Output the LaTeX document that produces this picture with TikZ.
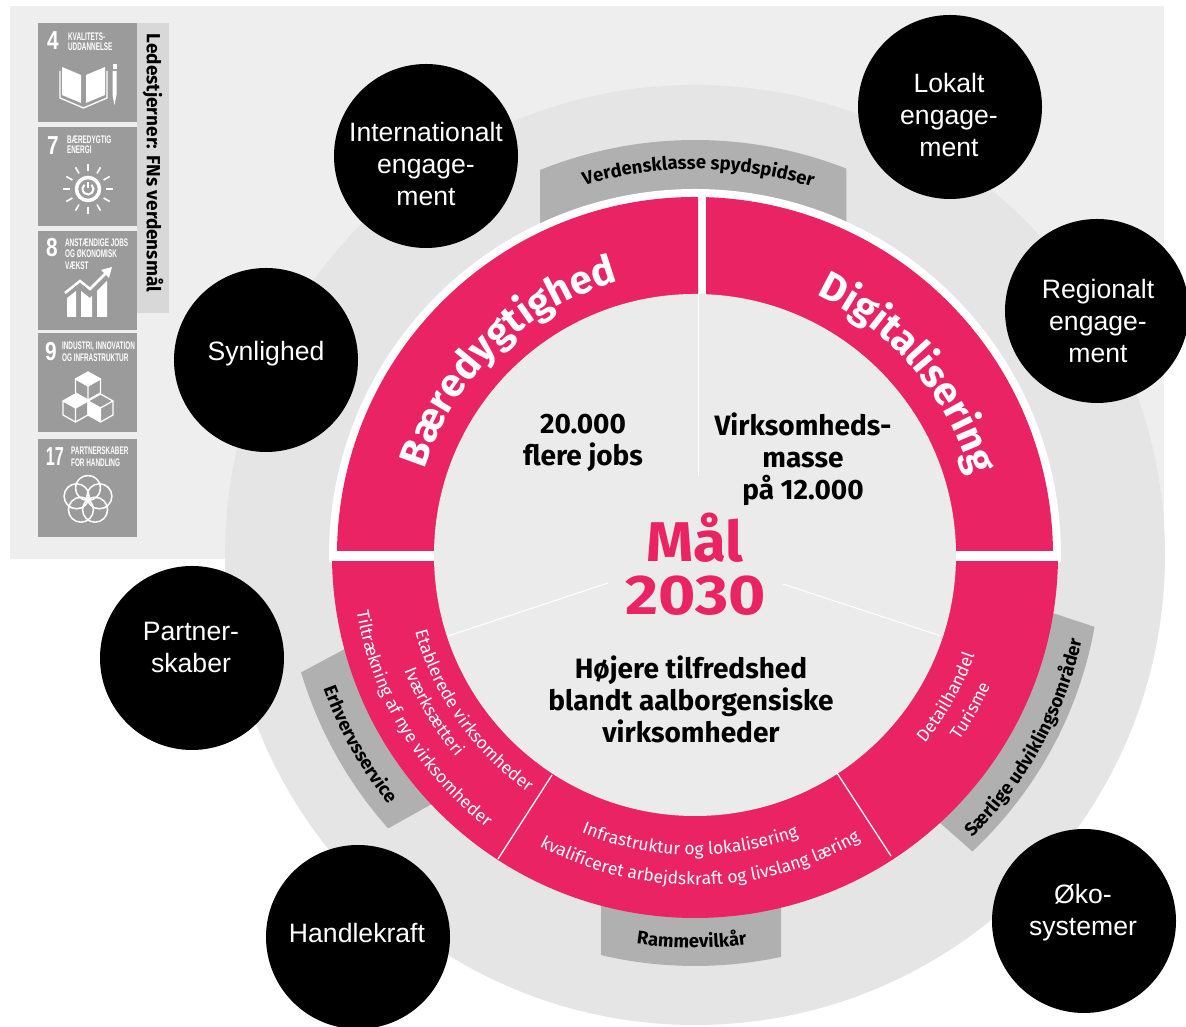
\documentclass[tikz,border=0pt]{standalone}
\usepackage{fontspec}
\setmainfont{Liberation Sans}
\newfontfamily\firafont{Fira Sans}
\usetikzlibrary{decorations.text}

\definecolor{ringpink}{HTML}{E92364}
\definecolor{panelgray}{HTML}{EEEEEE}
\definecolor{discgray}{HTML}{E5E5E5}
\definecolor{innergray}{HTML}{EBEBEB}
\definecolor{tabgray}{HTML}{B0B0B0}
\definecolor{tilegray}{HTML}{9B9B9B}
\definecolor{stripgray}{HTML}{D8D8D8}

\newcommand{\bandfont}{\firafont\fontsize{17.5}{17.5}\selectfont\color{white}}
\newcommand{\tabfont}{\firafont\bfseries\fontsize{18.5}{18.5}\selectfont\color{black}}
\newcommand{\headfont}{\firafont\bfseries\fontsize{40}{40}\selectfont\color{white}}

\tikzset{
	goalcircle/.style={circle,fill=black,minimum size=184pt,inner sep=0pt},
	goallabel/.style={text=white,inner sep=0pt,align=center,font=\fontsize{26.6}{32}\selectfont},
	goaltext/.style={align=center,font=\firafont\bfseries\fontsize{28}{32}\selectfont},
	bigtext/.style={text=ringpink,font=\firafont\bfseries\fontsize{56}{56}\selectfont,inner sep=0pt,transform shape},
	archead/.style={decorate,decoration={text along path,text align=center,text={|\headfont|#1}}},
	arcband/.style={decorate,decoration={text along path,text align=center,text={|\bandfont|#1}}},
	arctab/.style={decorate,decoration={text along path,text align=center,text={|\tabfont|#1}}},
	tabshape/.style={fill=tabgray},
	tilebox/.style={fill=tilegray},
	tilenum/.style={text=white,anchor=center,inner sep=0pt,xscale=.8,transform shape,font=\bfseries\fontsize{26}{26}\selectfont},
	tilelabel/.style={text=white,anchor=west,inner sep=0pt,xscale=.58,transform shape,font=\bfseries\fontsize{11}{11}\selectfont},
	iconline/.style={draw=white,line width=1.3pt},
	sunray/.style={draw=white,line width=1.6pt}
}

\begin{document}
\begin{tikzpicture}[x=1pt,y=1pt]
	
	\useasboundingbox (0,0) rectangle (1186,1027);
	
	\fill[panelgray] (10,468) rectangle (1164,1021);
	
	% ring
	
	\begin{scope}[shift={(695,472)}]
	
		\fill[discgray] (0,0) circle (470);
		
		\fill[tabshape] (-155,0) -- (111.9:415) arc (111.9:68.6:415) -- (151,0) -- cycle;
		\fill[tabshape] (-94,-300) -- (256.8:411) arc (256.8:282.1:411) -- (86,-300) -- cycle;
		\fill[tabshape] (-311,-73) -- (196.6:411) arc (196.6:221.7:411) -- (-222,-226) -- cycle;
		\fill[tabshape] (315,-44) -- (-10.2:406) arc (-10.2:-46.9:406) -- (210,-237) -- cycle;
		
		\begin{scope}
			\clip (-400,-7) rectangle (400,400);
			\fill[white] (0,0) circle (366);
		\end{scope}
		\begin{scope}
			\clip (-400,4) rectangle (3,400);
			\fill[ringpink] (0,0) circle (358);
		\end{scope}
		\begin{scope}
			\clip (11,4) rectangle (400,400);
			\fill[ringpink] (0,0) circle (358);
		\end{scope}
		\begin{scope}
			\clip (-400,-400) rectangle (400,-7);
			\fill[ringpink] (0,0) circle (363);
		\end{scope}
		
		\fill[innergray] (0,0) circle (261);
		
		\draw[white,line width=1pt] (3,262) -- (3,79);
		\draw[white,line width=1pt] (-87,-28) -- (-247,-81);
		\draw[white,line width=1pt] (88,-29) -- (246,-81);
		\draw[white,line width=1.3pt] (-143,-220) -- (-197,-304);
		\draw[white,line width=1.3pt] (142,-218) -- (196,-301);
		
		% texts on the ring
		
		\path[archead={Bæredygtighed}] (170:284) arc (170:98:284);
		\path[archead={Digitalisering}] (71.5:287) arc (71.5:9.5:287);
		
		\path[arcband={Infrastruktur og lokalisering}] (244:300) arc (244:294:300);
		\path[arcband={kvalificeret arbejdskraft og livslang læring}] (236:330) arc (236:306:330);
		\path[arcband={Tiltrækning af nye virksomheder}] (185:343) arc (185:237:343);
		\path[arcband={Iværksætteri}] (195:313) arc (195:227:313);
		\path[arcband={Etablerede virksomheder}] (190:290) arc (190:240:290);
		\path[arcband={Detailhandel}] (-45:297) arc (-45:-14:297);
		\path[arcband={Turisme}] (-40:323) arc (-40:-19:323);
		
		\path[arctab={Verdensklasse spydspidser}] (114.5:386) arc (114.5:64.5:386);
		\path[arctab={Rammevilkår}] (259:393) arc (259:280:393);
		\path[arctab={Erhvervsservice}] (192:395) arc (192:227:395);
		\path[arctab={Særlige udviklingsområder}] (-52:396) arc (-52:-6:396);
		
	\end{scope}
	
	\node[bigtext,xscale=1.07] (maal) at (695,489) {Mål};
	\node[bigtext,xscale=1.14] (aar) at (696,431) {2030};
	
	\node[goaltext] (jobs) at (583,584) {20.000\\flere jobs};
	\node[goaltext] (masse) at (803,568) {Virksomheds-\\masse\\på 12.000};
	\node[goaltext] (tilfreds) at (691,328) {Højere tilfredshed\\blandt aalborgensiske\\virksomheder};
	
	% black circles
	
	\node[goalcircle] (internat) at (426,871) {};
	\node[goallabel] at ([yshift=-8pt]internat.center) {Internationalt\\engage-\\ment};
	\node[goalcircle] (lokalt) at (950,920) {};
	\node[goallabel] at ([xshift=-1pt,yshift=-8pt]lokalt.center) {Lokalt\\engage-\\ment};
	\node[goalcircle] (regionalt) at (1097,716) {};
	\node[goallabel] at ([xshift=1pt,yshift=-10pt]regionalt.center) {Regionalt\\engage-\\ment};
	\node[goalcircle] (synlighed) at (266,667) {};
	\node[goallabel] at ([yshift=6pt]synlighed.center) {Synlighed};
	\node[goalcircle] (partner) at (192,369) {};
	\node[goallabel] at ([xshift=-1pt,yshift=11pt]partner.center) {Partner-\\skaber};
	\node[goalcircle] (handle) at (358,90) {};
	\node[goallabel] at ([xshift=-1pt,yshift=4pt]handle.center) {Handlekraft};
	\node[goalcircle] (oko) at (1084,106) {};
	\node[goallabel] at ([xshift=-1pt,yshift=8pt]oko.center) {Øko-\\systemer};
	
	% FN tiles
	
	\fill[stripgray] (137,714) rectangle (169,1004);
	\node[rotate=-90,inner sep=0pt,font=\firafont\bfseries\fontsize{19}{19}\selectfont] (ledestjerner) at (153,864) {Ledestjerner: FNs verdensmål};
	
	\begin{scope}[shift={(38,1004)}]
		\fill[tilebox] (0,0) rectangle (99,-99);
		\node[tilenum] (num4) at (15,-18) {4};
		\node[tilelabel] (lab4a) at (30,-14) {KVALITETS-};
		\node[tilelabel] (lab4b) at (30,-24) {UDDANNELSE};
		\fill[white] (24,-44) -- (43,-52) -- (43,-80) -- (24,-72) -- cycle;
		\fill[white] (48,-52) -- (67,-44) -- (67,-72) -- (48,-80) -- cycle;
		\draw[iconline] (22,-48) -- (22,-75) -- (45.5,-85) -- (69,-75) -- (69,-48);
		\fill[white] (74.5,-41) rectangle (78.5,-46);
		\fill[white] (74.5,-48) -- (78.5,-48) -- (78.5,-72) -- (76.5,-82) -- (74.5,-72) -- cycle;
	\end{scope}
	
	\begin{scope}[shift={(38,900)}]
		\fill[tilebox] (0,0) rectangle (99,-99);
		\node[tilenum] (num7) at (15,-19) {7};
		\node[tilelabel] (lab7a) at (29,-13) {BÆREDYGTIG};
		\node[tilelabel] (lab7b) at (29,-23) {ENERGI};
		\begin{scope}[shift={(50,-62)}]
			\draw[white,line width=3.5pt] (0,0) circle (11.5);
			\draw[white,line width=2pt] (50:5.5) arc (50:-230:5.5);
			\draw[white,line width=2pt] (0,1) -- (0,7);
			\foreach \ang in {0,30,...,330} {
				\draw[sunray] (\ang:18) -- (\ang:25);
			}
		\end{scope}
	\end{scope}
	
	\begin{scope}[shift={(38,796)}]
		\fill[tilebox] (0,0) rectangle (99,-99);
		\node[tilenum] (num8) at (14,-17) {8};
		\node[tilelabel] (lab8a) at (27,-12) {ANSTÆNDIGE JOBS};
		\node[tilelabel] (lab8b) at (27,-23) {OG ØKONOMISK};
		\node[tilelabel] (lab8c) at (27,-35) {VÆKST};
		\fill[white] (29,-86) -- (29,-67) -- (38,-60) -- (38,-86) -- cycle;
		\fill[white] (43,-86) -- (43,-60) -- (52,-67) -- (54,-65) -- (54,-86) -- cycle;
		\fill[white] (59,-86) -- (59,-60) -- (69,-50) -- (69,-86) -- cycle;
		\draw[white,line width=2.5pt] (27,-62) -- (42,-50) -- (52,-58) -- (69,-41);
		\fill[white] (74,-36) -- (63,-39) -- (71,-47) -- cycle;
	\end{scope}
	
	\begin{scope}[shift={(38,694)}]
		\fill[tilebox] (0,0) rectangle (99,-99);
		\node[tilenum] (num9) at (13,-19) {9};
		\node[tilelabel] (lab9a) at (24,-14) {INDUSTRI, INNOVATION};
		\node[tilelabel] (lab9b) at (24,-25) {OG INFRASTRUKTUR};
		\foreach \cx/\cy in {50/-53,37.5/-75,62.5/-75} {
			\draw[iconline,fill=tilegray,line join=round] (\cx,\cy+14) -- (\cx+12.5,\cy+7) -- (\cx+12.5,\cy-7) -- (\cx,\cy-14) -- (\cx-12.5,\cy-7) -- (\cx-12.5,\cy+7) -- cycle;
			\draw[iconline] (\cx-12.5,\cy+7) -- (\cx,\cy) -- (\cx+12.5,\cy+7) (\cx,\cy) -- (\cx,\cy-14);
		}
		\fill[white] (50,-39) -- (62.5,-46) -- (50,-53) -- (37.5,-46) -- cycle;
		\fill[white] (37.5,-61) -- (50,-68) -- (37.5,-75) -- (25,-68) -- cycle;
		\fill[white] (62.5,-75) -- (50,-68) -- (50,-82) -- (62.5,-89) -- cycle;
	\end{scope}
	
	\begin{scope}[shift={(38,588)}]
		\fill[tilebox] (0,0) rectangle (99,-98);
		\node[tilenum,xscale=.78] (num17) at (17,-18) {17};
		\node[tilelabel] (lab17a) at (33,-12) {PARTNERSKABER};
		\node[tilelabel] (lab17b) at (33,-24) {FOR HANDLING};
		\begin{scope}[shift={(50,-61)}]
			\foreach \ang in {90,162,234,306,18} {
				\draw[iconline,line width=1.5pt] (\ang:12) circle (12.5);
			}
		\end{scope}
	\end{scope}
	
\end{tikzpicture}
\end{document}
